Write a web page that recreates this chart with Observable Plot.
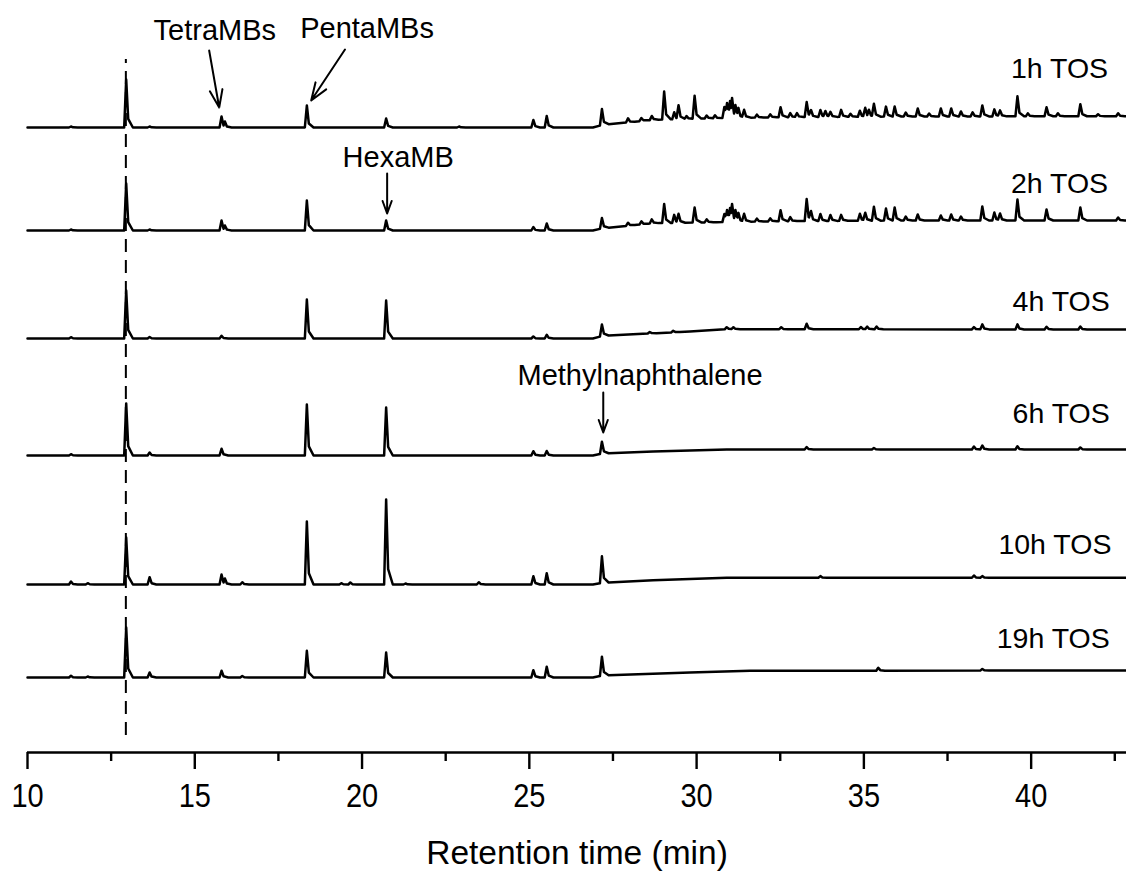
<!DOCTYPE html>
<html><head><meta charset="utf-8">
<script src="https://cdn.jsdelivr.net/npm/d3@7"></script>
<script src="https://cdn.jsdelivr.net/npm/@observablehq/plot@0.6"></script>
<style>body{margin:0;background:#fff}</style>
</head><body><div id="chart"></div>
<script>
// ---- axis ----
const xDomain = [10, 42.85];
const majorTicks = [10, 15, 20, 25, 30, 35, 40];
const minorTicks = [12.5, 17.5, 22.5, 27.5, 32.5, 37.5, 42.5];
const axisTitle = "Retention time (min)";

// ---- traces (signal offset of each chromatogram, arbitrary units) ----
const traceNames = ["1h TOS", "2h TOS", "4h TOS", "6h TOS", "10h TOS", "19h TOS"];
const traceLevels = [625, 522, 414, 297, 168, 75];
const traceLabelX = [42.3, 42.3, 42.35, 42.35, 42.4, 42.35];
const traceLabelY = [684, 569, 451, 339, 208, 114];

// baseline drift [retention time, rise]
const drift1h = [[10,0],[26.9,0],[27.2,2.7],[28.7,7.7],[30.6,9.3],[32.5,10.3],[36.2,11],[42.85,11.3]];
const drift2h = [[10,0],[26.9,0],[27.2,2.3],[28.7,7.3],[30.6,8.3],[32.5,9.3],[36.2,10],[42.85,10]];
const drift4h = [[10,0],[26.9,0],[27.2,2.7],[29.8,7],[30.9,9.3],[42.85,9]];
const drift6h = [[10,0],[26.9,0],[27.2,2],[28.7,4],[30.9,6],[42.85,6]];
const drift10h = [[10,0],[26.9,0],[27.2,1.7],[28.7,4.3],[30.9,6.7],[42.85,6.7]];
const drift19h = [[10,0],[26.9,0],[27.2,2],[29.8,5],[31.6,6.7],[42.85,7]];

// peaks [retention time, height]
const peaks1h = [[11.3,1],[12.95,48],[13.65,1],[15.8,11],[15.9,6],[18.35,22],[20.72,9],[22.9,1],[25.12,7.5],[25.52,11.5],
  [27.17,16],[27.95,4],[28.35,3],[28.66,4],[29.03,28],[29.33,7],[29.46,14],[29.7,3],[29.94,23],[30.3,3],[30.55,3],
  [30.83,11],[30.91,15],[31.0,17],[31.06,20],[31.16,13],[31.25,10],[31.42,8],[31.8,3],[32.2,3],[32.51,10],[32.8,4],
  [33.0,4],[33.29,15],[33.42,7],[33.7,7],[33.85,6],[34.0,5],[34.32,7],[34.6,3],[34.88,6],[35.04,9],[35.15,7],[35.3,13],
  [35.66,10],[35.92,10],[36.25,4],[36.61,8],[36.95,3],[37.3,8],[37.61,8],[37.9,5],[38.25,4],[38.54,11],[38.9,7],
  [39.07,6],[39.59,20],[39.9,3],[40.46,9],[40.8,3],[41.47,12],[42.0,2],[42.6,3]];
const peaks2h = [[11.3,1],[12.95,47],[13.65,1],[15.8,10],[15.9,5],[18.35,30],[20.72,10],[25.12,3.5],[25.52,7],
  [27.17,10.5],[27.95,3],[28.35,3],[28.66,4],[29.03,19],[29.33,8],[29.46,9],[29.94,15],[30.3,3],[30.83,8],[30.91,12],
  [31.0,14],[31.06,18],[31.16,12],[31.25,9],[31.42,8],[31.8,3],[32.2,3],[32.51,11],[32.8,4],[33.29,22],[33.42,10],
  [33.7,7],[34.0,6],[34.32,6],[34.88,7],[35.04,8],[35.3,14],[35.66,12],[35.92,13],[36.25,4],[36.61,6],[37.3,5],
  [37.61,6],[37.9,4],[38.54,14],[38.9,8],[39.07,7],[39.59,21],[40.46,11],[41.47,13],[42.6,3]];
const peaks4h = [[11.3,1.3],[12.95,48],[13.65,1.5],[15.8,2.7],[18.35,39],[20.72,38],[25.12,2],[25.52,3.7],[27.17,11.5],
  [28.6,1.5],[29.3,1.5],[30.9,2],[31.1,2],[32.53,2],[33.29,5.5],[34.91,2.3],[35.1,2.7],[35.38,2.7],[38.29,2.3],
  [38.54,5],[39.59,5],[40.46,2.7],[41.47,3]];
const peaks6h = [[11.3,1.3],[12.95,52],[13.65,3],[15.8,6.7],[18.35,51],[20.72,48],[25.12,4.3],[25.52,4.5],[27.17,12],
  [33.29,2.5],[35.3,1.5],[38.29,3],[38.54,4],[39.59,3.3],[41.47,2]];
const peaks10h = [[11.3,3],[11.8,1.3],[12.95,47],[13.65,7.3],[15.8,10],[15.9,6],[16.42,2.3],[18.35,63],[19.38,1.3],
  [19.65,2],[20.72,85],[21.3,1],[23.49,2.3],[25.12,8.3],[25.52,11.3],[27.17,26.7],[33.7,1.7],[38.29,2.3],[38.54,1.7]];
const peaks19h = [[11.3,1.7],[11.8,1],[12.95,50],[13.65,5],[15.8,6.7],[16.42,1.5],[18.35,26.7],[20.72,25],[25.12,7.3],
  [25.52,10.7],[27.17,19],[35.43,3],[38.54,1.7]];

// ---- annotations ----
const annotationText = ["TetraMBs", "PentaMBs", "HexaMB", "Methylnaphthalene"];
const annotationX = [15.6, 20.15, 21.08, 28.31];
const annotationY = [722, 724, 595, 377];
const arrowX1 = [15.43, 19.49, 20.75, 27.21];
const arrowY1 = [702, 703, 579, 360];
const arrowX2 = [15.73, 18.48, 20.75, 27.21];
const arrowY2 = [645, 652, 539, 320];
const dashX = [12.94];
const dashY1 = [17];
const dashY2 = [693];

// ---- build polyline rows from baseline + peaks ----
const RISE = 0.06, TAILX = 0.06, TAILF = 0.18, FALL = 0.2;
function peakAt(x, p) {
  const rt = p[0], h = p[1];
  if (x <= rt - RISE || x >= rt + FALL) return 0;
  if (x <= rt) return h * (x - (rt - RISE)) / RISE;
  if (x <= rt + TAILX) return h - (h - h * TAILF) * (x - rt) / TAILX;
  return h * TAILF * (rt + FALL - x) / (FALL - TAILX);
}
function driftAt(x, drift) {
  for (let i = 1; i < drift.length; i++) {
    const a = drift[i - 1], b = drift[i];
    if (x <= b[0]) return a[1] + (b[1] - a[1]) * (x - a[0]) / (b[0] - a[0]);
  }
  return drift[drift.length - 1][1];
}
const driftList = [drift1h, drift2h, drift4h, drift6h, drift10h, drift19h];
const peakList = [peaks1h, peaks2h, peaks4h, peaks6h, peaks10h, peaks19h];
const rows = [];
traceNames.forEach((name, i) => {
  const drift = driftList[i], peaks = peakList[i];
  let xs = drift.map(d => d[0]);
  peaks.forEach(p => xs.push(p[0] - RISE, p[0], p[0] + TAILX, p[0] + FALL));
  xs = Array.from(new Set(xs.map(v => +v.toFixed(4))))
    .filter(v => v >= xDomain[0] && v <= xDomain[1]).sort((a, b) => a - b);
  xs.forEach(x => {
    const pk = d3.max(peaks, p => peakAt(x, p));
    rows.push({trace: name, x, y: traceLevels[i] + driftAt(x, drift) + pk});
  });
});

const chart = Plot.plot({
  width: 1126, height: 881,
  marginLeft: 27, marginRight: 0, marginTop: 0, marginBottom: 129,
  x: {domain: xDomain, label: null},
  y: {domain: [0, 752], axis: null},
  style: {fontFamily: "'Liberation Sans', Arial, sans-serif", color: "black", background: "white"},
  marks: [
    Plot.ruleY([0], {strokeWidth: 2.4, stroke: "black"}),
    Plot.axisX(majorTicks, {label: null, tickSize: 17, tickPadding: 14, fontSize: 29, strokeWidth: 2.4, tickFormat: d => String(d)}),
    Plot.axisX(minorTicks, {label: null, tickSize: 9, strokeWidth: 2.4, tickFormat: () => ""}),
    Plot.text([axisTitle], {frameAnchor: "bottom", dy: 111, fontSize: 33.5, text: d => d}),
    Plot.ruleX(dashX, {x: d => d, y1: dashY1, y2: dashY2, strokeDasharray: "13,8", strokeWidth: 2, stroke: "black"}),
    Plot.line(rows, {x: "x", y: "y", z: "trace", stroke: "black", strokeWidth: 2.5, strokeLinejoin: "round"}),
    Plot.text(traceNames, {x: traceLabelX, y: traceLabelY, text: d => d, textAnchor: "end", fontSize: 28.5}),
    Plot.text(annotationText, {x: annotationX, y: annotationY, text: d => d, fontSize: 29}),
    Plot.arrow(annotationText, {x1: arrowX1, y1: arrowY1, x2: arrowX2, y2: arrowY2, stroke: "black", strokeWidth: 2, headLength: 14, headAngle: 40})
  ]
});
document.getElementById("chart").appendChild(chart);

// tick labels in the reference are drawn taller than wide: stretch them vertically about their top edge
const svgNS = "http://www.w3.org/2000/svg";
chart.querySelectorAll('g[aria-label="x-axis tick label"] text').forEach(t => {
  if (!t.textContent) return;
  const bb = t.getBBox();
  const cons = t.transform && t.transform.baseVal && t.transform.baseVal.numberOfItems ? t.transform.baseVal.consolidate() : null;
  const ty = cons ? cons.matrix.f : 0;
  const top = ty + bb.y + bb.height * 0.2;
  const g = document.createElementNS(svgNS, "g");
  g.setAttribute("transform", `translate(0,${top}) scale(1,1.15) translate(0,${-top})`);
  t.parentNode.insertBefore(g, t);
  g.appendChild(t);
});
</script>
</body></html>
